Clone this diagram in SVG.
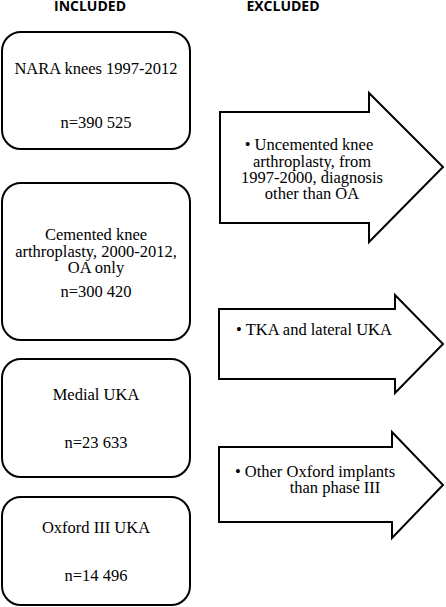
<svg xmlns="http://www.w3.org/2000/svg" width="446" height="607" viewBox="0 0 446 607">
<style>
.box{fill:#fff;stroke:#000;stroke-width:2}
.arr{fill:#fff;stroke:#000;stroke-width:2;stroke-linejoin:miter}
</style>
<rect width="446" height="607" fill="#fff"/>
<g font-family="Open Sans, DejaVu Sans, sans-serif" font-size="14" font-weight="bold" text-anchor="middle" fill="#000">
<text x="90" y="10.5">INCLUDED</text>
<text x="283" y="10.5">EXCLUDED</text>
</g>
<g id="connectors" font-family="Liberation Serif, serif" font-size="16.5" text-anchor="middle" fill="#000">
<g id="excl1">
<path class="arr" d="M220,112 H369 V93 L443,167 L369,242 V223 H220 Z"/>
<text x="309" y="150">• Uncemented knee</text>
<text x="312" y="167">arthroplasty, from</text>
<text x="312" y="183">1997-2000, diagnosis</text>
<text x="312" y="199">other than OA</text>
</g>
<g id="excl2">
<path class="arr" d="M219,309 H395 V295 L443,344 L395,393 V379 H219 Z"/>
<text x="314" y="335">• TKA and lateral UKA</text>
</g>
<g id="excl3">
<path class="arr" d="M219,447 H392 V432 L443,485 L392,538 V522 H219 Z"/>
<text x="315" y="477">• Other Oxford implants</text>
<text x="335" y="493">than phase III</text>
</g>
</g>
<g font-family="Liberation Serif, serif" font-size="16.5" text-anchor="middle" fill="#000">
<g id="node1">
<rect class="box" x="2" y="32" width="188" height="117" rx="19"/>
<text x="96" y="74">NARA knees 1997-2012</text>
<text x="96" y="128">n=390 525</text>
</g>
<g id="node2">
<rect class="box" x="2" y="183" width="188" height="157" rx="19"/>
<text x="96" y="240">Cemented knee</text>
<text x="96" y="257">arthroplasty, 2000-2012,</text>
<text x="96" y="273">OA only</text>
<text x="96" y="297">n=300 420</text>
</g>
<g id="node3">
<rect class="box" x="2" y="359" width="188" height="118" rx="19"/>
<text x="96" y="400">Medial UKA</text>
<text x="96" y="448">n=23 633</text>
</g>
<g id="node4">
<rect class="box" x="2" y="497" width="188" height="108" rx="19"/>
<text x="96" y="533">Oxford III UKA</text>
<text x="96" y="581">n=14 496</text>
</g>
</g>
</svg>
